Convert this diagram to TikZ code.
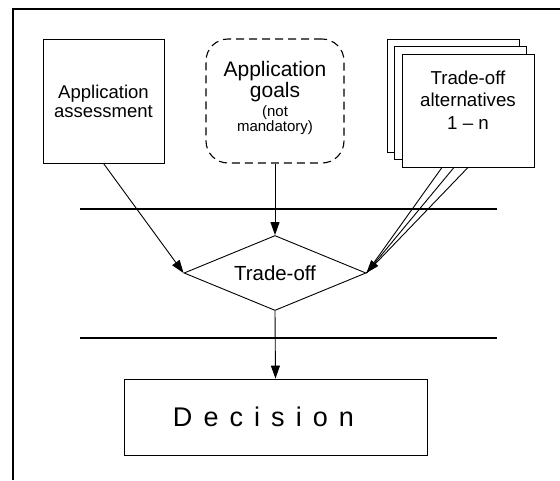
\documentclass[tikz,border=0pt]{standalone}
\usepackage{fontspec}
\setmainfont{Liberation Sans}
\usetikzlibrary{shapes.geometric,arrows.meta}
\begin{document}
\begin{tikzpicture}[x=1pt,y=-1pt,
  box/.style={draw,line width=0.9pt,inner sep=0pt,align=center},
  sheet/.style={box,fill=white,minimum width=132pt,minimum height=113pt},
  conn/.style={line width=0.9pt},
  arr/.style={conn,-{Triangle[length=13pt,width=9pt]}},
  bar/.style={line width=2.6pt},
  ]
\useasboundingbox (0,0) rectangle (560,480);
% outer frame (left and top edges)
\draw[line width=1.5pt] (13,480) -- (13,9) -- (560,9);

% inputs
\node[box,minimum width=121pt,minimum height=124pt,
      font=\fontsize{18.5}{19}\selectfont] (assess) at (103.5,101)
      {Application\\assessment};
\node[box,line width=1.1pt,dash pattern=on 8pt off 5pt,rounded corners=22pt,
      minimum width=138pt,minimum height=124pt] (goals) at (275,101) {};
\node[align=center,inner sep=0pt] (goalstext) at (275,98)
      {\fontsize{21}{25}\selectfont Application\\
       \fontsize{21}{25}\selectfont goals\\[3pt]
       \fontsize{15}{17}\selectfont (not\\
       \fontsize{15}{17}\selectfont mandatory)};
\node[sheet] (alt3) at (453,95.5) {};
\node[sheet] (alt2) at (460.5,103) {};
\node[sheet] (alt1) at (468,110.5) {};
\node[align=center,inner sep=0pt,font=\fontsize{18.7}{22.5}\selectfont]
      (alttext) at (468,100) {Trade-off\\alternatives\\1 -- n};

% separating bars
\coordinate (b1l) at (80,209);  \coordinate (b1r) at (497,209);
\coordinate (b2l) at (80,338);  \coordinate (b2r) at (497,338);
\draw[bar] (b1l) -- (b1r);
\draw[bar] (b2l) -- (b2r);

% trade-off and decision
\node[draw,line width=0.9pt,diamond,aspect=2.43,inner sep=0pt,
      minimum width=182pt,minimum height=75pt,
      font=\fontsize{20.4}{24}\selectfont] (trade) at (275,273) {Trade-off};
\node[box,minimum width=303pt,minimum height=76pt,
      font=\fontsize{27}{30}\selectfont] (decision) at (275.5,417)
      {\addfontfeature{LetterSpace=41}Decision\hspace{24pt}};

% connectors
\draw[arr] (assess.south) -- (trade.west);
\draw[arr] (goals.south) -- (trade.north);
\draw[conn] ([xshift=-26pt]alt1.south) -- (trade.east);
\draw[conn] ([xshift=0pt]alt1.south) -- (trade.east);
\draw[arr] ([xshift=-14pt]alt1.south) -- (trade.east);
\draw[arr] (trade.south) -- (decision.north);
\end{tikzpicture}
\end{document}
